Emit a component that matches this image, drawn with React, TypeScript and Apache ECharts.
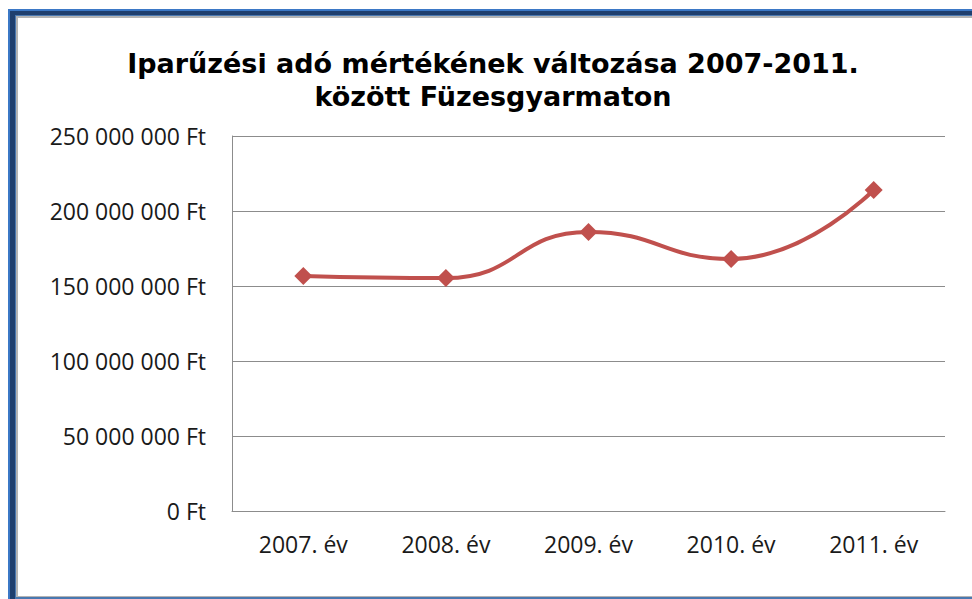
import React, { useEffect, useRef } from "react";
import * as echarts from "echarts";

const categories = ["2007. év", "2008. év", "2009. év", "2010. év", "2011. év"];
const values = [156700000, 155300000, 186000000, 168000000, 214000000];
const yTicks = [0, 50000000, 100000000, 150000000, 200000000, 250000000];
const titleLines = ["Iparűzési adó mértékének változása 2007-2011.", "között Füzesgyarmaton"];

function fmt(v: number): string {
  if (v === 0) return "0 Ft";
  const s = String(Math.round(v));
  return s.replace(/\B(?=(\d{3})+(?!\d))/g, " ") + " Ft";
}

export default function App() {
  const ref = useRef<HTMLDivElement>(null);
  useEffect(() => {
    if (!ref.current) return;
    const chart = echarts.init(ref.current, null, { renderer: "svg" });
    chart.setOption({
      animation: false,
      backgroundColor: "#ffffff",
      graphic: [
        { type: "rect", z: -10, shape: { x: 8, y: 9, width: 980, height: 600 }, style: { fill: "#3b78c6" } },
        { type: "rect", z: -9, shape: { x: 10, y: 11, width: 980, height: 600 }, style: { fill: "#1f3f6e" } },
        { type: "rect", z: -8, shape: { x: 15, y: 15, width: 980, height: 600 }, style: { fill: "#4a78b0" } },
        { type: "rect", z: -7, shape: { x: 16, y: 16, width: 980, height: 581 }, style: { fill: "#b4b4b4" } },
        { type: "rect", z: -6, shape: { x: 18, y: 18, width: 980, height: 578 }, style: { fill: "#ffffff" } },
        {
          type: "text",
          x: 493,
          y: 47,
          style: {
            text: titleLines.join("\n"),
            fontFamily: "DejaVu Sans",
            fontWeight: "bold",
            fontSize: 27,
            lineHeight: 33,
            fill: "#000000",
            align: "center",
          },
        },
      ],
      grid: { left: 232, right: 27, top: 136, bottom: 88 },
      xAxis: {
        type: "category",
        data: categories,
        boundaryGap: true,
        axisLine: { show: true, lineStyle: { color: "#8c8c8c", width: 1 } },
        axisTick: { show: false },
        axisLabel: { fontFamily: "Open Sans", fontSize: 23, color: "#1a1a1a", margin: 21 },
      },
      yAxis: {
        type: "value",
        min: 0,
        max: 250000000,
        interval: 50000000,
        axisLine: { show: true, lineStyle: { color: "#8c8c8c", width: 1 } },
        axisTick: { show: false },
        splitLine: { show: true, lineStyle: { color: "#8c8c8c", width: 1 } },
        axisLabel: {
          fontFamily: "Open Sans",
          fontSize: 23,
          color: "#1a1a1a",
          margin: 26,
          formatter: (v: number) => (yTicks.includes(v) ? fmt(v) : ""),
        },
      },
      series: [
        {
          type: "line",
          data: values,
          smooth: 0.5,
          symbol: "diamond",
          symbolSize: 18,
          lineStyle: { color: "#c0504d", width: 4 },
          itemStyle: { color: "#c0504d" },
        },
      ],
    });
    return () => chart.dispose();
  }, []);
  return <div ref={ref} style={{ position: "absolute", left: 0, top: 0, width: 972, height: 599 }} />;
}
